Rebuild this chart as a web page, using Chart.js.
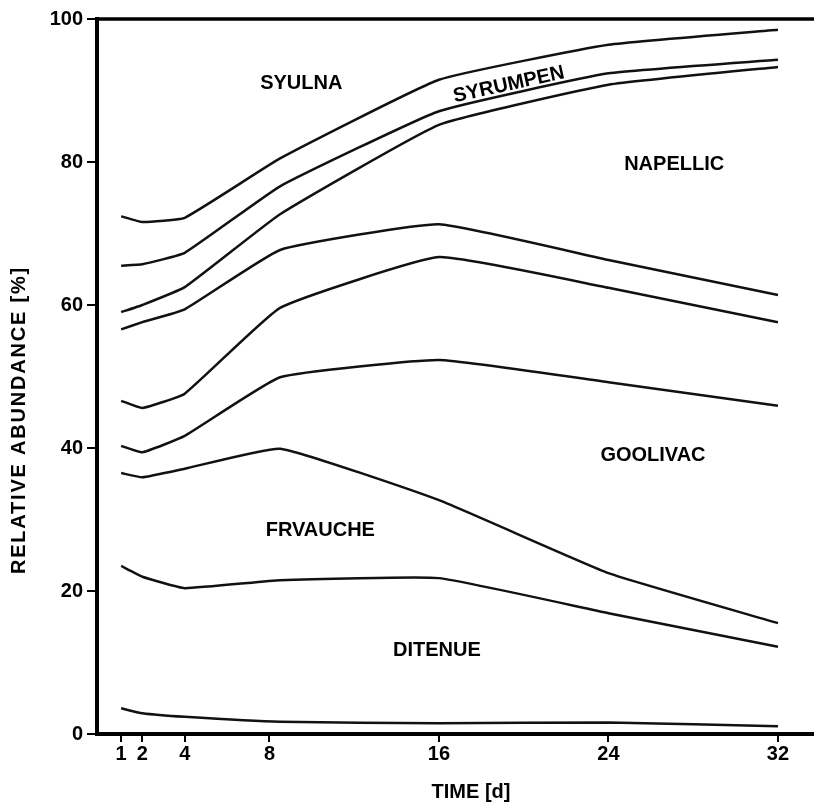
<!DOCTYPE html>
<html>
<head>
<meta charset="utf-8">
<script src="https://cdn.jsdelivr.net/npm/chart.js@4.4.1/dist/chart.umd.min.js"></script>
<style>
  html, body { margin: 0; padding: 0; background: #fff; }
  #wrap { width: 814px; height: 803px; }
</style>
</head>
<body>
<div id="wrap"><canvas id="chart"></canvas></div>
<script>
// sampling days and tick labels
const days = [1, 2, 4, 8.5, 16, 24, 32];
const xTicks = [1, 2, 4, 8, 16, 24, 32];
const yTicks = [0, 20, 40, 60, 80, 100];

// boundary lines, top to bottom (cumulative %)
const line1 = [72.4, 71.6, 72.2, 80.5, 91.5, 96.4, 98.5];
const line2 = [65.5, 65.7, 67.3, 76.6, 87.1, 92.4, 94.3];
const line3 = [59.0, 60.0, 62.5, 72.7, 85.2, 90.8, 93.3];
const line4 = [56.6, 57.6, 59.4, 67.7, 71.3, 66.3, 61.4];
const line5 = [46.6, 45.6, 47.6, 59.6, 66.7, 62.4, 57.6];
const line6 = [40.3, 39.4, 41.7, 49.9, 52.3, 49.2, 45.9];
const line7 = [36.5, 35.9, 37.1, 39.9, 32.7, 22.5, 15.5];
const line8 = [23.5, 22.0, 20.4, 21.5, 21.8, 16.9, 12.2];
const line9 = [3.6, 2.9, 2.4, 1.7, 1.5, 1.6, 1.1];

// area names and where they sit (day, %)
const areaNames = ['SYULNA', 'SYRUMPEN', 'NAPELLIC', 'GOOLIVAC', 'FRVAUCHE', 'DITENUE'];
const areaDays = [9.5, 19.3, 27.1, 26.1, 10.4, 15.9];
const areaValues = [91.0, 90.8, 79.7, 38.9, 28.5, 11.7];
const areaAngles = [0, -12.4, 0, 0, 0, 0];

const FONT = "'Liberation Sans', Arial, Helvetica, sans-serif";
const allLines = [line1, line2, line3, line4, line5, line6, line7, line8, line9];

const decorPlugin = {
    id: 'decor',
    afterDraw(chart) {
        const ctx = chart.ctx;
        const area = chart.chartArea;
        const xs = chart.scales.x, ys = chart.scales.y;
        ctx.save();
        // top frame line
        ctx.strokeStyle = '#000';
        ctx.lineWidth = 3.5;
        ctx.beginPath();
        ctx.moveTo(area.left - 2, area.top);
        ctx.lineTo(chart.width, area.top);
        ctx.stroke();

        // area names
        ctx.fillStyle = '#000';
        ctx.font = 'bold 20px ' + FONT;
        ctx.textAlign = 'center';
        ctx.textBaseline = 'middle';
        areaNames.forEach((name, i) => {
            ctx.save();
            ctx.translate(xs.getPixelForValue(areaDays[i]), ys.getPixelForValue(areaValues[i]));
            ctx.rotate(areaAngles[i] * Math.PI / 180);
            ctx.fillText(name, 0, 0);
            ctx.restore();
        });

        // axis titles
        ctx.fillText('TIME [d]', 471, 792);
        ctx.save();
        ctx.translate(19, 420);
        ctx.rotate(-Math.PI / 2);
        ctx.letterSpacing = '1.8px';
        ctx.fillText('RELATIVE ABUNDANCE [%]', 0, 0);
        ctx.restore();
        ctx.restore();
    }
};

new Chart(document.getElementById('chart'), {
    type: 'line',
    data: {
        datasets: allLines.map((vals, i) => ({
            label: 'line' + (i + 1),
            data: days.map((d, j) => ({ x: d, y: vals[j] })),
            borderColor: '#111',
            borderWidth: 2.5,
            pointRadius: 0,
            tension: 0.12,
            fill: false
        }))
    },
    options: {
        responsive: true,
        maintainAspectRatio: false,
        animation: false,
        layout: { padding: { top: 19, right: 0, left: 0, bottom: 0 } },
        plugins: {
            legend: { display: false },
            tooltip: { enabled: false }
        },
        scales: {
            x: {
                type: 'linear',
                min: -0.14,
                max: 33.7,
                afterBuildTicks: scale => { scale.ticks = xTicks.map(v => ({ value: v })); },
                afterFit: scale => { scale.height = 69; },
                ticks: {
                    color: '#000',
                    font: { family: FONT, size: 20, weight: 'bold' },
                    padding: 0,
                    autoSkip: false,
                    maxRotation: 0
                },
                grid: { display: true, drawOnChartArea: false, drawTicks: true, tickLength: 8, lineWidth: 2, color: '#000' },
                border: { display: true, color: '#000', width: 4 }
            },
            y: {
                min: 0,
                max: 100,
                afterBuildTicks: scale => { scale.ticks = yTicks.map(v => ({ value: v })); },
                afterFit: scale => { scale.width = 97; },
                ticks: {
                    color: '#000',
                    font: { family: FONT, size: 20, weight: 'bold' },
                    padding: 4
                },
                grid: { display: true, drawOnChartArea: false, drawTicks: true, tickLength: 10, lineWidth: 2, color: '#000' },
                border: { display: true, color: '#000', width: 4 }
            }
        }
    },
    plugins: [decorPlugin]
});
</script>
</body>
</html>
